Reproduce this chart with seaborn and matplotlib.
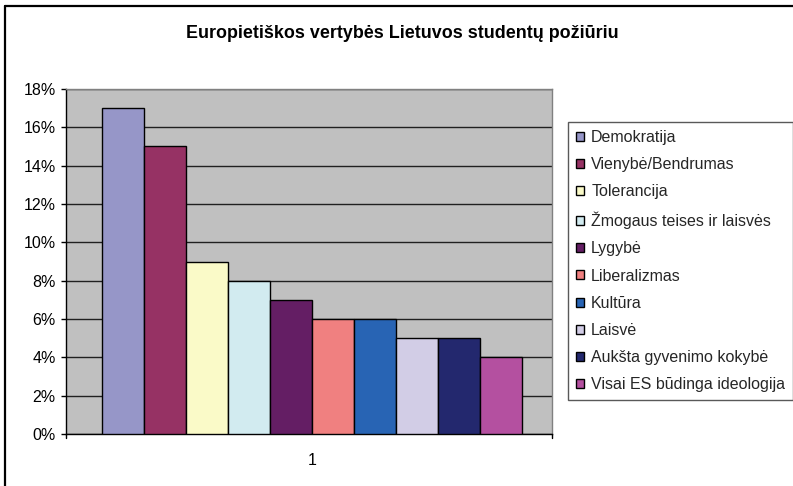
import matplotlib
matplotlib.use("Agg")
import matplotlib.pyplot as plt
import seaborn as sns
import pandas as pd
from matplotlib.lines import Line2D
from matplotlib.ticker import FuncFormatter, MultipleLocator

categories = ["Demokratija", "Vienybė/Bendrumas", "Tolerancija", "Žmogaus teises ir laisvės",
              "Lygybė", "Liberalizmas", "Kultūra", "Laisvė", "Aukšta gyvenimo kokybė",
              "Visai ES būdinga ideologija"]
values = [0.17, 0.15, 0.09, 0.08, 0.07, 0.06, 0.06, 0.05, 0.05, 0.04]
colors = ["#9696C8", "#963264", "#FAFAC8", "#D2EBF0", "#641E64",
          "#F08080", "#2864B4", "#D2CDE6", "#23286E", "#B450A0"]
group = ["1"] * len(categories)
title = "Europietiškos vertybės Lietuvos studentų požiūriu"

sns.set_theme(style="white")
plt.rcParams['font.family'] = ['Liberation Sans', 'DejaVu Sans']

df = pd.DataFrame({"grp": group, "cat": categories, "val": values})

W, H = 793, 486
fig = plt.figure(figsize=(W/100, H/100), dpi=100)
ax = fig.add_axes([66/W, 1-434/H, (552-66)/W, (434-89)/H])

sns.barplot(data=df, x="grp", y="val", hue="cat", hue_order=categories,
            palette=colors, width=0.864, edgecolor="black", linewidth=1,
            saturation=1, ax=ax, legend=True, zorder=3)

ax.set_facecolor("#C0C0C0")
ax.set_ylim(0, 0.18)
ax.set_xlim(-0.506, 0.494)
ax.yaxis.set_major_locator(MultipleLocator(0.02))
ax.yaxis.set_major_formatter(FuncFormatter(lambda v, p: f"{round(v*100):d}%"))
ax.grid(axis="y", color="#202020", linewidth=1, zorder=0)
ax.set_axisbelow(True)
ax.set_xlabel("")
ax.set_ylabel("")
ax.tick_params(axis="y", direction="out", length=3.5, width=1, color="black",
               labelsize=11.5, pad=4, left=True)
ax.set_xticks([0])
ax.set_xticklabels(["1"])
ax.tick_params(axis="x", length=0, labelsize=11.5, pad=13.5)
# boundary ticks on x axis
for xb in (0.0, 1.0):
    ax.add_line(Line2D([xb, xb], [0, -0.012], transform=ax.transAxes,
                       color="black", lw=1, clip_on=False, zorder=5))

for side in ("left", "bottom"):
    ax.spines[side].set_color("black")
    ax.spines[side].set_linewidth(1)
for side in ("top", "right"):
    ax.spines[side].set_color("#808080")
    ax.spines[side].set_linewidth(1)

for t in ax.get_yticklabels() + ax.get_xticklabels():
    t.set_color("black")

ax.get_legend().remove()
handles, labels = ax.get_legend_handles_labels()
leg = fig.legend(handles, labels, loc="upper left",
                 bbox_to_anchor=(568/W, 1-122/H), bbox_transform=fig.transFigure,
                 frameon=True, fancybox=False, edgecolor="#303030", fontsize=11.5,
                 handlelength=0.5, handleheight=0.5, handletextpad=0.45,
                 labelspacing=0.765, borderpad=0.5, borderaxespad=0)
leg.get_frame().set_linewidth(1)
for h in leg.legend_handles:
    h.set_edgecolor("black")
    h.set_linewidth(1)

fig.text(402.5/W, 1-33/H, title,
         ha="center", va="center", fontsize=12.9, fontweight="bold", color="black")

# outer chart frame (top and left edges visible)
fig.add_artist(Line2D([5/W, 1.0], [1-6/H, 1-6/H], transform=fig.transFigure,
                      color="black", lw=1.6))
fig.add_artist(Line2D([5/W, 5/W], [0.0, 1-6/H], transform=fig.transFigure,
                      color="black", lw=1.6))

fig.savefig("out.png", dpi=100, facecolor="white")
